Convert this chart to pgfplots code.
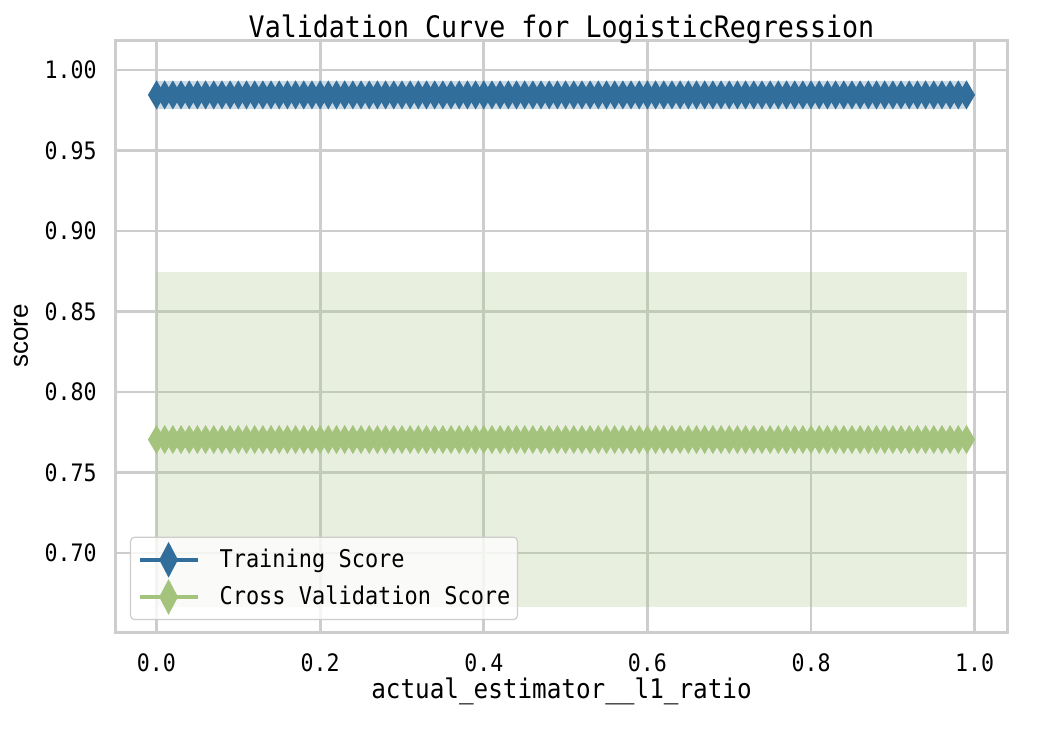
\documentclass[border=0pt]{standalone}
\usepackage{pgfplots}
\pgfplotsset{compat=1.18}
\usepackage{pgfplotstable}
\usepackage{fontspec}
\setmainfont{DejaVu Sans Mono}[FakeStretch=0.9]
\newfontfamily\scorefont{Liberation Sans}
\definecolor{trainblue}{RGB}{50,110,155}
\definecolor{cvgreen}{RGB}{164,195,124}
\definecolor{gridgray}{RGB}{205,205,205}

\pgfplotstableread{
x train cv
0.00 0.9845 0.7705
0.01 0.9845 0.7705
0.02 0.9845 0.7705
0.03 0.9845 0.7705
0.04 0.9845 0.7705
0.05 0.9845 0.7705
0.06 0.9845 0.7705
0.07 0.9845 0.7705
0.08 0.9845 0.7705
0.09 0.9845 0.7705
0.10 0.9845 0.7705
0.11 0.9845 0.7705
0.12 0.9845 0.7705
0.13 0.9845 0.7705
0.14 0.9845 0.7705
0.15 0.9845 0.7705
0.16 0.9845 0.7705
0.17 0.9845 0.7705
0.18 0.9845 0.7705
0.19 0.9845 0.7705
0.20 0.9845 0.7705
0.21 0.9845 0.7705
0.22 0.9845 0.7705
0.23 0.9845 0.7705
0.24 0.9845 0.7705
0.25 0.9845 0.7705
0.26 0.9845 0.7705
0.27 0.9845 0.7705
0.28 0.9845 0.7705
0.29 0.9845 0.7705
0.30 0.9845 0.7705
0.31 0.9845 0.7705
0.32 0.9845 0.7705
0.33 0.9845 0.7705
0.34 0.9845 0.7705
0.35 0.9845 0.7705
0.36 0.9845 0.7705
0.37 0.9845 0.7705
0.38 0.9845 0.7705
0.39 0.9845 0.7705
0.40 0.9845 0.7705
0.41 0.9845 0.7705
0.42 0.9845 0.7705
0.43 0.9845 0.7705
0.44 0.9845 0.7705
0.45 0.9845 0.7705
0.46 0.9845 0.7705
0.47 0.9845 0.7705
0.48 0.9845 0.7705
0.49 0.9845 0.7705
0.50 0.9845 0.7705
0.51 0.9845 0.7705
0.52 0.9845 0.7705
0.53 0.9845 0.7705
0.54 0.9845 0.7705
0.55 0.9845 0.7705
0.56 0.9845 0.7705
0.57 0.9845 0.7705
0.58 0.9845 0.7705
0.59 0.9845 0.7705
0.60 0.9845 0.7705
0.61 0.9845 0.7705
0.62 0.9845 0.7705
0.63 0.9845 0.7705
0.64 0.9845 0.7705
0.65 0.9845 0.7705
0.66 0.9845 0.7705
0.67 0.9845 0.7705
0.68 0.9845 0.7705
0.69 0.9845 0.7705
0.70 0.9845 0.7705
0.71 0.9845 0.7705
0.72 0.9845 0.7705
0.73 0.9845 0.7705
0.74 0.9845 0.7705
0.75 0.9845 0.7705
0.76 0.9845 0.7705
0.77 0.9845 0.7705
0.78 0.9845 0.7705
0.79 0.9845 0.7705
0.80 0.9845 0.7705
0.81 0.9845 0.7705
0.82 0.9845 0.7705
0.83 0.9845 0.7705
0.84 0.9845 0.7705
0.85 0.9845 0.7705
0.86 0.9845 0.7705
0.87 0.9845 0.7705
0.88 0.9845 0.7705
0.89 0.9845 0.7705
0.90 0.9845 0.7705
0.91 0.9845 0.7705
0.92 0.9845 0.7705
0.93 0.9845 0.7705
0.94 0.9845 0.7705
0.95 0.9845 0.7705
0.96 0.9845 0.7705
0.97 0.9845 0.7705
0.98 0.9845 0.7705
0.99 0.9845 0.7705
}\scores

\begin{document}
\begin{tikzpicture}
\useasboundingbox (-58pt,-49pt) rectangle (470pt,316pt);
\begin{axis}[
  at={(0,0)}, anchor=south west,
  scale only axis,
  width=445.5pt, height=296pt,
  xmin=-0.0495, xmax=1.0395,
  ymin=0.651, ymax=1.0186,
  xtick={0,0.2,0.4,0.6,0.8,1.0},
  ytick={0.70,0.75,0.80,0.85,0.90,0.95,1.00},
  /pgf/number format/assume math mode=true,
  xticklabel style={/pgf/number format/.cd, fixed, fixed zerofill, precision=1, /tikz/.cd, anchor=base, yshift=-19.5pt, inner sep=0pt, font=\fontsize{12}{14}\selectfont},
  yticklabel style={/pgf/number format/.cd, fixed, fixed zerofill, precision=2, /tikz/.cd, anchor=east, xshift=-9.5pt, inner sep=0pt, font=\fontsize{12}{14}\selectfont},
  major tick length=0pt,
  grid=major,
  grid style={gridgray, line width=1.4pt},
  axis line style={gridgray, line width=1.5pt},
  axis background/.style={fill=white},
  every axis title shift=0pt,
  title={Validation Curve for LogisticRegression},
  title style={at={(axis description cs:0.5,1)}, anchor=base, yshift=1.5pt, inner sep=0pt, font=\fontsize{14.8}{17}\selectfont},
  xlabel={actual\_estimator\_\_l1\_ratio},
  xlabel style={at={(axis description cs:0.5,0)}, anchor=base, yshift=-33pt, inner sep=0pt, font=\fontsize{13.5}{16}\selectfont},
  ylabel={score},
  ylabel style={at={(axis description cs:-0.1066,0.5)}, anchor=center, inner sep=0pt, font=\scorefont\fontsize{13}{15}\selectfont},
  legend style={at={(axis description cs:0.0157,0.02)}, anchor=south west,
    draw=gridgray, line width=0.6pt, fill=white, fill opacity=0.8, text opacity=1, draw opacity=1,
    rounded corners=2pt, inner xsep=3.5pt, inner ysep=4.5pt, row sep=5pt, column sep=10pt,
    nodes={inner sep=0pt},
    font=\fontsize{12.2}{14}\selectfont},
  legend cell align=left,
  legend image code/.code={\draw[#1, opacity=1, fill opacity=1, mark repeat=2, mark phase=2, mark options={xscale=0.7}] plot coordinates {(0pt,0pt) (14.5pt,0pt) (29pt,0pt)};},
]
% bands
\addplot[draw=none, fill=trainblue, fill opacity=0.25, forget plot] coordinates {(0,0.9758) (0.99,0.9758) (0.99,0.9932) (0,0.9932)} -- cycle;
\addplot[draw=none, fill=cvgreen, fill opacity=0.25, forget plot] coordinates {(0,0.6665) (0.99,0.6665) (0.99,0.8745) (0,0.8745)} -- cycle;
% lines
\addplot[trainblue, line width=2pt, mark=diamond*, mark size=6.8pt, mark options={xscale=0.78, line width=0.5pt, fill=trainblue, draw=trainblue}] table[x=x, y=train] {\scores};
\addlegendentry{Training Score}
\addplot[cvgreen, line width=2pt, mark=diamond*, mark size=6.8pt, mark options={xscale=0.78, line width=0.5pt, fill=cvgreen, draw=cvgreen}] table[x=x, y=cv] {\scores};
\addlegendentry{Cross Validation Score}
\end{axis}
\end{tikzpicture}
\end{document}
